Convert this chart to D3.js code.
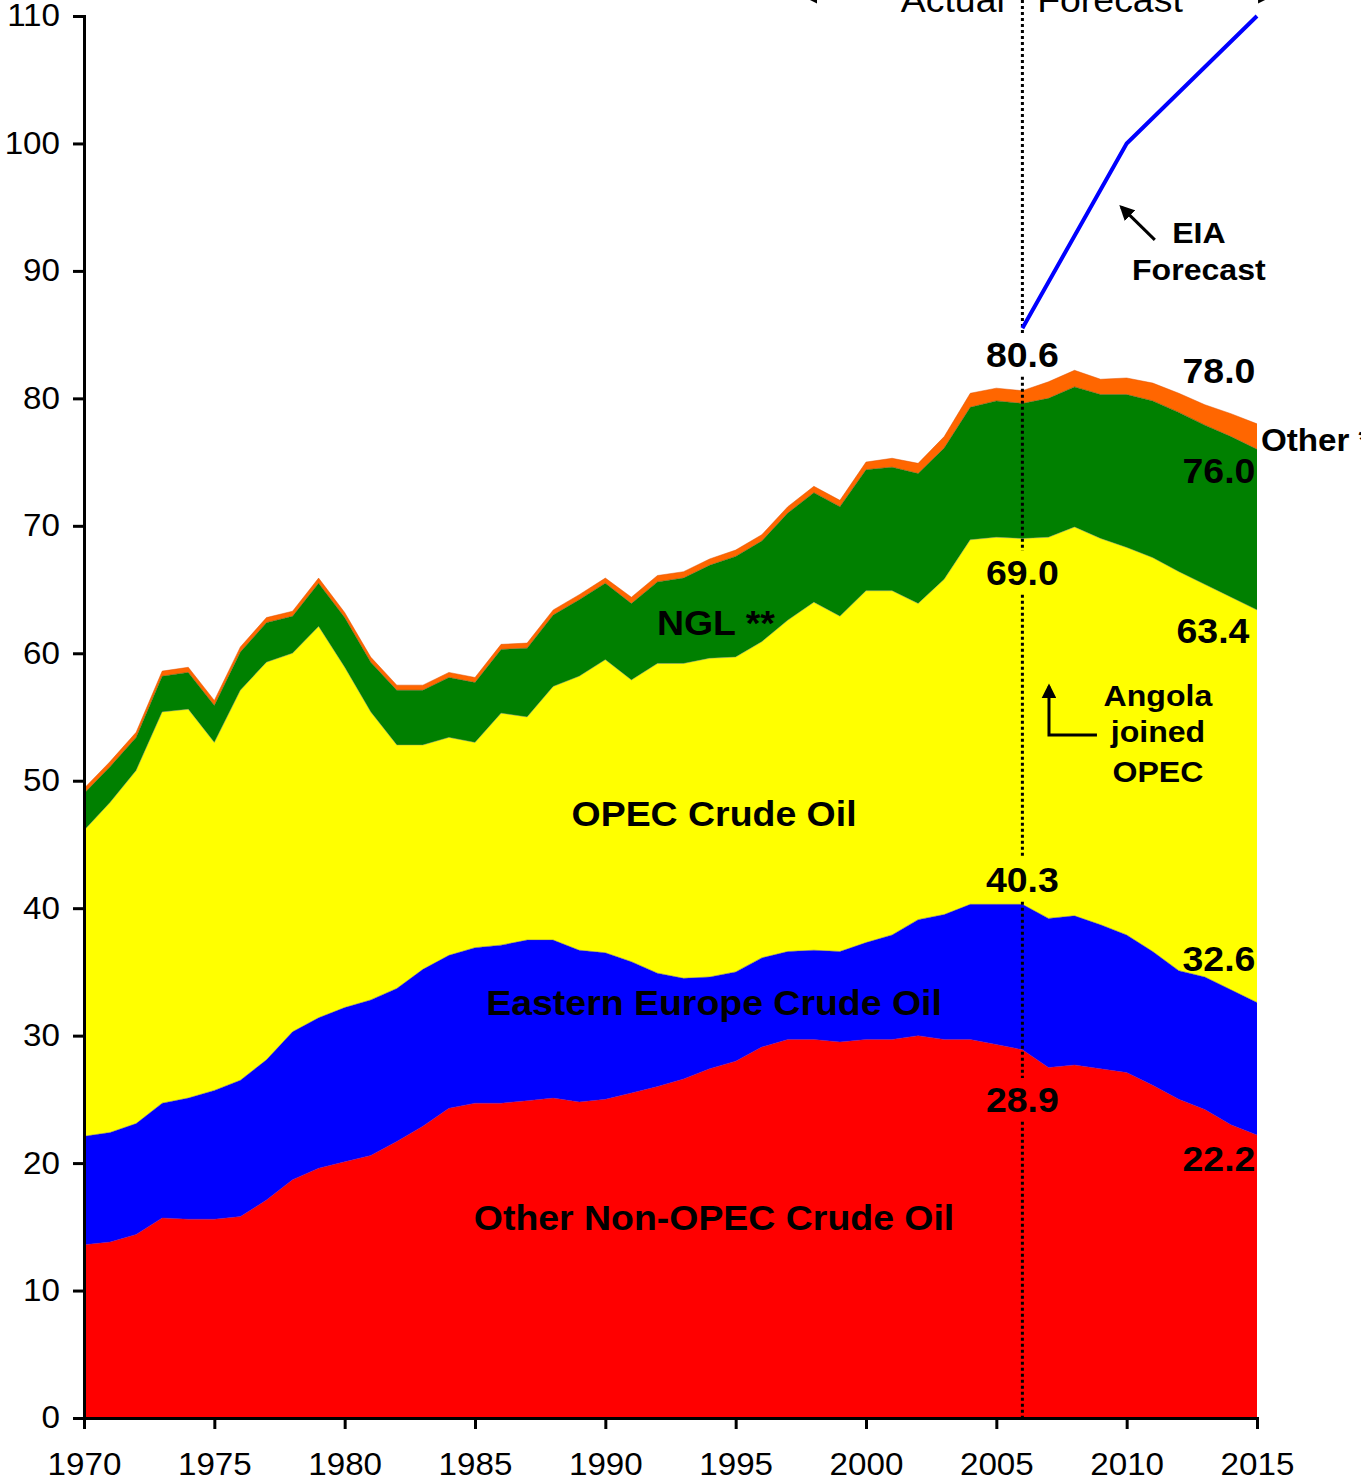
<!DOCTYPE html>
<html>
<head>
<meta charset="utf-8">
<script src="https://cdn.jsdelivr.net/npm/d3@7"></script>
<style>
  html, body { margin: 0; padding: 0; background: #ffffff; }
  svg { display: block; }
  text { font-family: "Liberation Sans", Arial, sans-serif; }
</style>
</head>
<body>
<script>
// ---------------- DATA ----------------
const years = d3.range(1970, 2016);
// Other Non-OPEC crude oil (mb/d)
const nonOpecCrude = [13.6,13.8,14.4,15.7,15.6,15.6,15.8,17.1,18.7,19.6,
  20.1,20.6,21.7,22.9,24.3,24.7,24.7,24.9,25.1,24.8,
  25.0,25.5,26.0,26.6,27.4,28.0,29.1,29.7,29.7,29.5,
  29.7,29.7,30.0,29.7,29.7,29.3,28.9,27.5,27.7,27.4,
  27.1,26.1,25.0,24.2,23.0,22.2];
// Eastern Europe crude oil
const easternEuropeCrude = [8.5,8.6,8.7,9.0,9.5,10.1,10.7,11.0,11.6,11.8,
  12.1,12.2,12.0,12.3,12.0,12.2,12.4,12.6,12.4,11.9,
  11.5,10.3,8.9,7.9,7.2,7.0,7.0,6.9,7.0,7.1,
  7.6,8.2,9.1,9.8,10.6,11.0,11.4,11.7,11.7,11.3,
  10.8,10.5,10.1,10.4,10.6,10.4];
// OPEC crude oil
const opecCrude = [24.0,25.9,27.7,30.7,30.5,27.3,30.6,31.2,29.7,30.7,
  26.7,22.6,19.1,17.6,17.1,16.1,18.2,17.5,19.9,21.5,
  23.0,22.1,24.3,24.7,25.0,24.7,24.8,26.0,27.3,26.3,
  27.6,27.0,24.8,26.3,28.6,28.8,28.7,29.9,30.5,30.3,
  30.4,30.9,31.3,30.8,30.8,30.8];
// Natural gas liquids
const ngl = [2.9,2.8,2.6,2.8,2.9,2.9,3.0,3.1,2.9,3.4,
  3.9,3.9,4.3,4.3,4.7,4.7,5.0,5.4,5.6,6.0,
  6.0,6.0,6.4,6.7,7.3,7.9,7.9,8.4,8.6,8.6,
  9.5,9.7,10.2,10.3,10.4,10.7,10.6,10.9,11.0,11.3,
  12.0,12.3,12.5,12.5,12.6,12.6];
// Other liquids
const otherLiquids = [0.4,0.4,0.4,0.4,0.4,0.4,0.4,0.4,0.4,0.4,
  0.4,0.4,0.4,0.4,0.4,0.4,0.4,0.4,0.4,0.4,
  0.4,0.5,0.5,0.5,0.5,0.5,0.5,0.5,0.5,0.5,
  0.6,0.7,0.8,0.9,1.1,1.0,1.0,1.3,1.3,1.2,
  1.3,1.4,1.5,1.6,1.8,2.0];
// EIA demand forecast
const eiaYears = [2006, 2010, 2015];
const eiaForecast = [85.5, 100, 110];

const seriesKeys = ["nonOpec", "eastEurope", "opec", "ngl", "other"];
const seriesColors = ["#ff0000", "#0000ff", "#ffff00", "#008000", "#ff6600"];
const seriesEdge = ["#a0006a", "#3030a0", "#a0a060", "#1a6a1a", "#e05000"];
const yTicks = d3.range(0, 111, 10);
const xTicks = d3.range(1970, 2016, 5);
const splitYear = 2006;

// ---------------- TABLE ----------------
const table = years.map((yr, i) => ({
  year: yr,
  nonOpec: nonOpecCrude[i],
  eastEurope: easternEuropeCrude[i],
  opec: opecCrude[i],
  ngl: ngl[i],
  other: otherLiquids[i]
}));

const W = 1361, H = 1480;
const STRETCH = 1.07; // horizontal stretch of the original text rendering
const x = d3.scaleLinear().domain([1970, 2015]).range([84, 1257]);
const y = d3.scaleLinear().domain([0, 110]).range([1418, 16]);

const svg = d3.select("body").append("svg").attr("width", W).attr("height", H);

// ---------------- AREAS ----------------
const stacked = d3.stack().keys(seriesKeys)(table);
const area = d3.area()
  .x(d => x(d.data.year))
  .y0(d => y(d[0]))
  .y1(d => y(d[1]));
const topLine = d3.line()
  .x(d => x(d.data.year))
  .y(d => y(d[1]));

svg.append("g").selectAll("path.area")
  .data(stacked).join("path")
  .attr("class", "area")
  .attr("d", area)
  .attr("fill", (d, i) => seriesColors[i]);
svg.append("g").selectAll("path.edge")
  .data(stacked).join("path")
  .attr("class", "edge")
  .attr("d", topLine)
  .attr("fill", "none")
  .attr("stroke", (d, i) => seriesEdge[i])
  .attr("stroke-width", 0.8)
  .attr("stroke-opacity", 0.6);

// ---------------- AXES ----------------
const yAxis = d3.axisLeft(y).tickValues(yTicks).tickSize(11).tickPadding(12);
const gy = svg.append("g").attr("transform", `translate(${x(1970)},0)`).call(yAxis);
gy.select(".domain").attr("stroke", "#000").attr("stroke-width", 3);
gy.selectAll(".tick line").attr("stroke", "#000").attr("stroke-width", 3);
gy.selectAll(".tick text").attr("font-size", 31).attr("fill", "#000")
  .attr("font-family", "'Liberation Sans', Arial, sans-serif")
  .attr("x", 0)
  .attr("transform", `translate(-24,0) scale(${STRETCH},1)`);

const xAxis = d3.axisBottom(x).tickValues(xTicks).tickFormat(d3.format("d")).tickSize(11).tickPadding(24);
const gx = svg.append("g").attr("transform", `translate(0,${y(0)})`).call(xAxis);
gx.select(".domain").attr("stroke", "#000").attr("stroke-width", 3);
gx.selectAll(".tick line").attr("stroke", "#000").attr("stroke-width", 3);
gx.selectAll(".tick text").attr("font-size", 31).attr("fill", "#000")
  .attr("font-family", "'Liberation Sans', Arial, sans-serif")
  .attr("transform", `scale(${STRETCH},1)`);

// ---------------- LABELS ----------------
// [text, year, value, anchor, fontSize, weight, sitsOnSplitLine]
const labels = [
  ["80.6", 2006, 82.46, "middle", 35, "bold", true],
  ["69.0", 2006, 65.36, "middle", 35, "bold", true],
  ["40.3", 2006, 41.27, "middle", 35, "bold", true],
  ["28.9", 2006, 24.01, "middle", 35, "bold", true],
  ["78.0", 2013.54, 81.2, "middle", 35, "bold"],
  ["76.0", 2013.54, 73.36, "middle", 35, "bold"],
  ["63.4", 2013.31, 60.81, "middle", 35, "bold"],
  ["32.6", 2013.54, 35.07, "middle", 35, "bold"],
  ["22.2", 2013.54, 19.38, "middle", 35, "bold"],
  ["Other ***", 2015.15, 75.87, "start", 31, "bold"],
  ["NGL **", 1991.98, 61.44, "start", 35, "bold"],
  ["OPEC Crude Oil", 1994.17, 46.45, "middle", 35, "bold"],
  ["Eastern Europe Crude Oil", 1994.17, 31.62, "middle", 35, "bold"],
  ["Other Non-OPEC Crude Oil", 1994.17, 14.75, "middle", 35, "bold"],
  ["EIA", 2012.77, 92.19, "middle", 30, "bold"],
  ["Forecast", 2012.77, 89.29, "middle", 30, "bold"],
  ["Angola", 2011.2, 55.87, "middle", 30, "bold"],
  ["joined", 2011.2, 53.04, "middle", 30, "bold"],
  ["OPEC", 2011.2, 49.9, "middle", 30, "bold"],
  ["Actual", 2003.33, 110.3, "middle", 35, "normal"],
  ["Forecast", 2009.36, 110.3, "middle", 35, "normal"]
];

// dotted split line is drawn first; gaps cut where labels on it sit
const gDots = svg.append("g");
const gLabels = svg.append("g");

const labelSel = gLabels.selectAll("text").data(labels).join("text")
  .attr("transform", d => `translate(${x(d[1])},${y(d[2])}) scale(${STRETCH},1)`)
  .attr("text-anchor", d => d[3])
  .attr("font-size", d => d[4])
  .attr("font-weight", d => d[5])
  .attr("fill", "#000")
  .text(d => d[0]);

// gaps for dotted line
const gaps = [];
labelSel.filter(d => d[6]).each(function (d) {
  const b = this.getBBox();
  const base = y(d[2]);
  gaps.push([base + b.y - 2, base + b.y + b.height + 2]);
});
gaps.sort((a, b) => a[0] - b[0]);
let segs = [], cur = 0;
gaps.forEach(g => { segs.push([cur, g[0]]); cur = g[1]; });
segs.push([cur, y(0)]);
gDots.selectAll("line").data(segs).join("line")
  .attr("x1", x(splitYear)).attr("x2", x(splitYear))
  .attr("y1", d => d[0]).attr("y2", d => d[1])
  .attr("stroke", "#000").attr("stroke-width", 3)
  .attr("stroke-dasharray", "3,3");

// ---------------- EIA LINE ----------------
const eiaData = eiaYears.map((yr, i) => ({ year: yr, v: eiaForecast[i] }));
svg.append("path")
  .datum(eiaData)
  .attr("d", d3.line().x(d => x(d.year)).y(d => y(d.v)))
  .attr("fill", "none")
  .attr("stroke", "#0000ff")
  .attr("stroke-width", 4);

// ---------------- ARROWS ----------------
const defs = svg.append("defs");
defs.append("marker").attr("id", "ah")
  .attr("viewBox", "0 0 10 10").attr("refX", 8).attr("refY", 5)
  .attr("markerWidth", 5).attr("markerHeight", 5)
  .attr("markerUnits", "strokeWidth")
  .attr("orient", "auto")
  .append("path").attr("d", "M0,0 L10,5 L0,10 Z").attr("fill", "#000");

// EIA arrow
svg.append("line")
  .attr("x1", x(2011.08)).attr("y1", y(92.43))
  .attr("x2", x(2009.8)).attr("y2", y(95.0))
  .attr("stroke", "#000").attr("stroke-width", 3)
  .attr("marker-end", "url(#ah)");
// Angola arrow
svg.append("path")
  .attr("d", `M${x(2008.86)},${y(53.59)} L${x(2007.02)},${y(53.59)} L${x(2007.02)},${y(57.4)}`)
  .attr("fill", "none")
  .attr("stroke", "#000").attr("stroke-width", 3)
  .attr("marker-end", "url(#ah)");

// Actual / Forecast direction arrows (clipped at top edge)
svg.append("line")
  .attr("x1", x(2001.0)).attr("y1", -4)
  .attr("x2", x(1997.66)).attr("y2", -4)
  .attr("stroke", "#000").attr("stroke-width", 3)
  .attr("marker-end", "url(#ah)");
svg.append("line")
  .attr("x1", x(2011.0)).attr("y1", -4)
  .attr("x2", x(2015.5)).attr("y2", -4)
  .attr("stroke", "#000").attr("stroke-width", 3)
  .attr("marker-end", "url(#ah)");
</script>
</body>
</html>
